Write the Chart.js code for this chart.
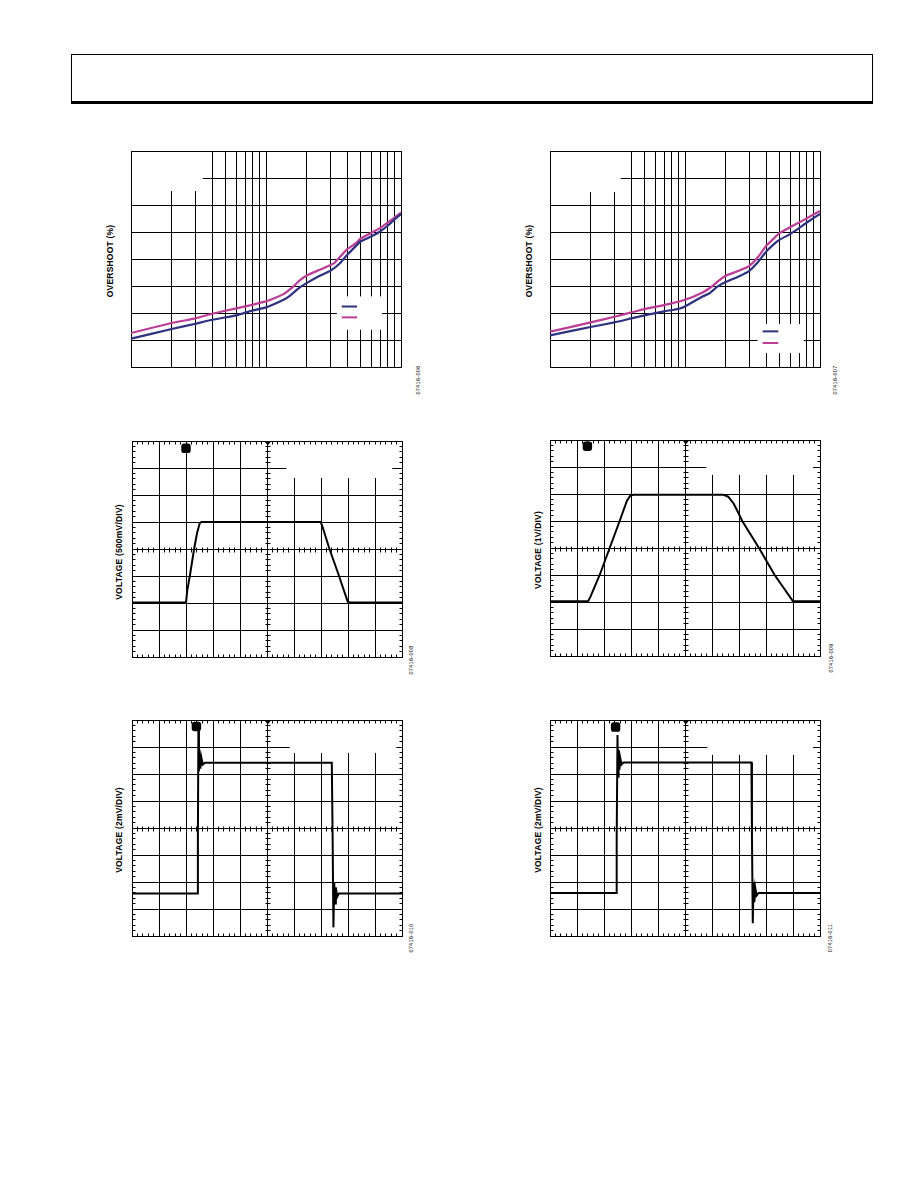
<!DOCTYPE html>
<html>
<head>
<meta charset="utf-8">
<script src="https://cdn.jsdelivr.net/npm/chart.js@4.4.1/dist/chart.umd.min.js"></script>
<style>
  html, body { margin: 0; padding: 0; background: #fff; }
  #page { position: relative; width: 918px; height: 1188px; overflow: hidden; background: #fff; }
  .header { position: absolute; left: 71px; top: 54px; width: 800px; height: 46px;
            border: 1px solid #000; border-bottom: 3px solid #000; }
  .ylabel { position: absolute; white-space: nowrap; color: #000;
            font: bold 8.5px "Liberation Sans", Arial, sans-serif; letter-spacing: 0.2px;
            transform: translate(-50%, -50%) rotate(-90deg); }
  .code { position: absolute; white-space: nowrap; color: #000;
          font: 5.5px "Liberation Sans", Arial, sans-serif; letter-spacing: 0.3px;
          transform: translate(-50%, -50%) rotate(-90deg); }
</style>
</head>
<body>
<div id="page"><div class="header"></div></div>
<script>
// Overshoot vs. load, log x grid (two decades) and linear y grid
const loadGrid = [10, 20, 30, 40, 50, 60, 70, 80, 90, 100, 200, 300, 400, 500, 600, 700, 800, 900, 1000];
const overshootTicks = [0, 5, 10, 15, 20, 25, 30, 35, 40];

const fig6LoadA = [10, 20, 30, 40, 60, 80, 100, 135, 150, 175, 200, 250, 300, 350, 400, 465, 500, 600, 700, 800, 900, 1000];
const fig6OvershootA = [5.24, 7.03, 8.01, 8.75, 9.56, 10.48, 11.04, 12.45, 13.19, 14.61, 15.54, 16.89, 17.82, 19.11, 20.78, 22.44, 23.24, 24.17, 25.09, 26.2, 27.37, 28.3];
const fig6LoadB = [10, 20, 30, 40, 50, 70, 100, 135, 160, 175, 200, 250, 320, 350, 400, 465, 500, 700, 800, 1000];
const fig6OvershootB = [6.29, 8.14, 9.0, 9.86, 10.42, 11.22, 12.15, 13.5, 14.92, 15.9, 16.95, 18.0, 19.23, 20.3, 21.82, 22.93, 23.74, 25.71, 26.76, 28.6];

const fig7LoadA = [10, 20, 30, 40, 50, 70, 90, 100, 135, 150, 175, 200, 250, 300, 350, 400, 465, 500, 600, 700, 800, 1000];
const fig7OvershootA = [5.86, 7.4, 8.26, 9.0, 9.56, 10.3, 10.79, 11.22, 13.07, 13.56, 14.92, 15.72, 16.77, 17.82, 19.54, 21.39, 22.93, 23.55, 24.6, 25.71, 26.76, 28.36];
const fig7LoadB = [10, 20, 30, 40, 50, 70, 100, 135, 160, 180, 200, 250, 300, 350, 400, 465, 500, 600, 700, 800, 1000];
const fig7OvershootB = [6.53, 8.26, 9.31, 10.11, 10.73, 11.47, 12.45, 13.81, 15.0, 16.1, 16.89, 17.82, 18.74, 20.47, 22.44, 24.04, 24.78, 25.89, 26.76, 27.56, 28.91];

// Scope captures, in divisions (10 x 8 graticule, 0 at centre line)
const divTicksX = [0, 1, 2, 3, 4, 5, 6, 7, 8, 9, 10];
const divTicksY = [-4, -3, -2, -1, 0, 1, 2, 3, 4];

const fig8Time = [0, 2.0, 2.05, 2.14, 2.30, 2.41, 2.51, 2.57, 6.99, 7.05, 7.32, 7.63, 7.88, 7.99, 8.06, 10];
const fig8Volt = [-1.98, -1.98, -1.51, -1.01, 0, 0.59, 0.96, 1.0, 1.0, 0.84, -0.02, -0.89, -1.63, -1.95, -1.98, -1.98];

const fig9Time = [0, 1.41, 1.5, 1.84, 2.21, 2.58, 2.85, 2.97, 3.1, 6.41, 6.6, 6.8, 6.95, 7.12, 7.74, 8.32, 9.0, 10];
const fig9Volt = [-1.975, -1.975, -1.8, -1, 0, 1, 1.75, 1.93, 1.975, 1.975, 1.9, 1.65, 1.35, 1.0, 0, -1, -1.975, -1.975];

const fig10Time = [0, 2.42, 2.44, 2.46, 2.48, 2.50, 2.53, 2.57, 2.62, 2.70, 7.40, 7.43, 7.46, 7.49, 7.52, 7.55, 7.60, 7.66, 10];
const fig10Volt = [-2.43, -2.43, -0.45, 3.81, 2.1, 2.9, 2.2, 2.6, 2.35, 2.42, 2.42, -0.3, -3.68, -2.0, -2.8, -2.2, -2.55, -2.43, -2.43];

const fig11Time = [0, 2.45, 2.47, 2.50, 2.52, 2.54, 2.57, 2.60, 2.65, 2.72, 7.46, 7.48, 7.51, 7.54, 7.57, 7.60, 7.65, 7.72, 10];
const fig11Volt = [-2.41, -2.41, -0.35, 3.44, 1.9, 2.9, 2.15, 2.6, 2.35, 2.43, 2.43, -0.3, -3.53, -2.0, -2.75, -2.2, -2.5, -2.41, -2.41];

// channel marker at the top of each scope screen
const markerTime = [2.0, 1.385, 2.385, 2.43];
const markerLevel = [3.73, 3.77, 3.76, 3.74];

const NAVY = '#2e3180';
const MAGENTA = '#bd3c95';
const W = 270, H = 216, PAD = 6;
const page = document.getElementById('page');

// White label boxes, frame, graticule ticks and key lines.
const pageDecor = {
  id: 'pageDecor',
  beforeDatasetsDraw(chart, args, opts) {
    const { ctx, scales: { x, y } } = chart;
    const px = v => Math.round(x.getPixelForValue(v) - 0.5) + 0.5;
    const py = v => Math.round(y.getPixelForValue(v) - 0.5) + 0.5;
    ctx.save();

    ctx.fillStyle = '#fff';
    (opts.boxes || []).forEach(([x0, x1, y0, y1]) => {
      const l = x.getPixelForValue(x0), r = x.getPixelForValue(x1);
      const t = y.getPixelForValue(y1), b = y.getPixelForValue(y0);
      ctx.fillRect(l, t, r - l, b - t);
    });

    ctx.strokeStyle = '#000';
    ctx.lineWidth = 1;
    const L = px(x.min), R = px(x.max), T = py(y.max), B = py(y.min);
    ctx.strokeRect(L, T, R - L, B - T);

    if (opts.scope) {
      const cx = px((x.min + x.max) / 2), cy = py(0);
      ctx.beginPath();
      for (let i = 0; i <= 50; i++) {
        const p = px(x.min + i * 0.2);
        ctx.moveTo(p, T); ctx.lineTo(p, T + 3);
        ctx.moveTo(p, B); ctx.lineTo(p, B - 3);
        ctx.moveTo(p, cy - 2); ctx.lineTo(p, cy + 3);
      }
      for (let i = 0; i <= 40; i++) {
        const p = py(y.min + i * 0.2);
        ctx.moveTo(L, p); ctx.lineTo(L + 3, p);
        ctx.moveTo(R, p); ctx.lineTo(R - 3, p);
        ctx.moveTo(cx - 2, p); ctx.lineTo(cx + 3, p);
      }
      ctx.stroke();

      // trigger position arrow on top edge
      ctx.fillStyle = '#000';
      ctx.beginPath();
      ctx.moveTo(cx - 3, T);
      ctx.lineTo(cx + 3.5, T);
      ctx.lineTo(cx + 0.25, T + 4);
      ctx.closePath();
      ctx.fill();
    }

    (opts.keys || []).forEach(k => {
      ctx.strokeStyle = k.color;
      ctx.lineWidth = 2;
      ctx.beginPath();
      ctx.moveTo(x.getPixelForValue(k.x0), y.getPixelForValue(k.y));
      ctx.lineTo(x.getPixelForValue(k.x1), y.getPixelForValue(k.y));
      ctx.stroke();
    });
    ctx.restore();
  }
};

function makeCanvas(id, left, top) {
  const canvas = document.createElement('canvas');
  canvas.id = id;
  canvas.width = W + 2 * PAD;
  canvas.height = H + 2 * PAD;
  canvas.style.position = 'absolute';
  canvas.style.left = (left - PAD) + 'px';
  canvas.style.top = (top - PAD) + 'px';
  page.appendChild(canvas);
  return canvas;
}

function addText(cls, text, cx, cy) {
  const div = document.createElement('div');
  div.className = cls;
  div.textContent = text;
  div.style.left = cx + 'px';
  div.style.top = cy + 'px';
  page.appendChild(div);
}

function gridAxis(extra, ticks) {
  return Object.assign({
    afterBuildTicks: axis => { axis.ticks = ticks.map(v => ({ value: v })); },
    ticks: { display: false },
    grid: { color: '#000', lineWidth: 1, drawTicks: false },
    border: { display: false },
  }, extra);
}

function toPoints(xs, ys) {
  return xs.map((v, i) => ({ x: v, y: ys[i] }));
}

function buildOvershoot(id, left, top, series, decor) {
  const canvas = makeCanvas(id, left, top);
  new Chart(canvas.getContext('2d'), {
    type: 'line',
    data: {
      datasets: series.map(s => ({
        data: toPoints(s.x, s.y),
        borderColor: s.color,
        borderWidth: 2.2,
        pointRadius: 0,
        tension: 0.15,
        fill: false,
      })),
    },
    options: {
      responsive: false,
      animation: false,
      events: [],
      layout: { padding: PAD },
      plugins: { legend: { display: false }, tooltip: { enabled: false }, pageDecor: decor },
      scales: {
        x: gridAxis({ type: 'logarithmic', min: 10, max: 1000 }, loadGrid),
        y: gridAxis({ type: 'linear', min: 0, max: 40 }, overshootTicks),
      },
    },
    plugins: [pageDecor],
  });
}

function buildScope(id, left, top, times, volts, mIndex, decor) {
  const canvas = makeCanvas(id, left, top);
  new Chart(canvas.getContext('2d'), {
    type: 'line',
    data: {
      datasets: [
        {
          data: toPoints(times, volts),
          borderColor: '#000',
          borderWidth: 2,
          pointRadius: 0,
          tension: 0,
          fill: false,
        },
        {
          data: [{ x: markerTime[mIndex], y: markerLevel[mIndex] }],
          showLine: false,
          pointStyle: 'rectRounded',
          pointRadius: 5.5,
          backgroundColor: '#000',
          borderColor: '#000',
          borderWidth: 0,
        },
      ],
    },
    options: {
      responsive: false,
      animation: false,
      events: [],
      layout: { padding: PAD },
      plugins: { legend: { display: false }, tooltip: { enabled: false }, pageDecor: Object.assign({ scope: true }, decor) },
      scales: {
        x: gridAxis({ type: 'linear', min: 0, max: 10 }, divTicksX),
        y: gridAxis({ type: 'linear', min: -4, max: 4 }, divTicksY),
      },
    },
    plugins: [pageDecor],
  });
}

buildOvershoot('fig6', 131, 151, [
  { x: fig6LoadA, y: fig6OvershootA, color: NAVY },
  { x: fig6LoadB, y: fig6OvershootB, color: MAGENTA },
], {
  boxes: [[10, 34, 32.6, 40], [335, 724, 6.9, 13.07]],
  keys: [{ x0: 364, x1: 473, y: 11.2, color: NAVY }, { x0: 364, x1: 473, y: 9.19, color: MAGENTA }],
});

buildOvershoot('fig7', 550, 151, [
  { x: fig7LoadA, y: fig7OvershootA, color: NAVY },
  { x: fig7LoadB, y: fig7OvershootB, color: MAGENTA },
], {
  boxes: [[10, 33.4, 32.4, 40], [345, 757, 2.59, 7.95]],
  keys: [{ x0: 376, x1: 491, y: 6.6, color: NAVY }, { x0: 376, x1: 491, y: 4.44, color: MAGENTA }],
});

buildScope('fig8', 132, 441, fig8Time, fig8Volt, 0, { boxes: [[5.72, 9.64, 2.63, 4]] });
buildScope('fig9', 550, 440, fig9Time, fig9Volt, 1, { boxes: [[5.79, 9.74, 2.71, 4]] });
buildScope('fig10', 132, 720, fig10Time, fig10Volt, 2, { boxes: [[5.84, 9.79, 2.78, 4]] });
buildScope('fig11', 550, 720, fig11Time, fig11Volt, 3, { boxes: [[5.83, 9.74, 2.71, 4]] });

addText('ylabel', 'OVERSHOOT (%)', 110, 261);
addText('ylabel', 'OVERSHOOT (%)', 528.5, 261);
addText('ylabel', 'VOLTAGE (500mV/DIV)', 119, 552);
addText('ylabel', 'VOLTAGE (1V/DIV)', 537.5, 549.5);
addText('ylabel', 'VOLTAGE (2mV/DIV)', 119, 830);
addText('ylabel', 'VOLTAGE (2mV/DIV)', 537.5, 830);

addText('code', '07416-006', 417.5, 380);
addText('code', '07416-007', 834.5, 380);
addText('code', '07416-008', 410.5, 660);
addText('code', '07416-009', 830.5, 657.5);
addText('code', '07416-010', 410.5, 937.5);
addText('code', '07416-011', 830, 937.5);
</script>
</body>
</html>
